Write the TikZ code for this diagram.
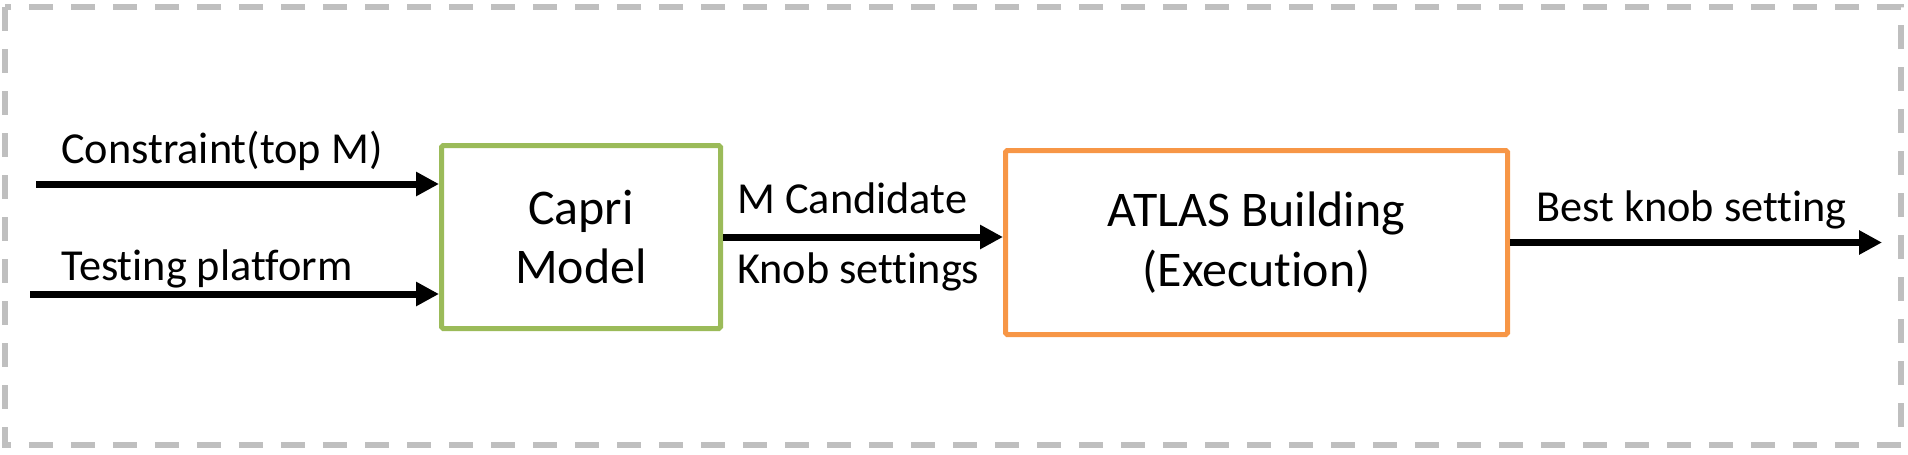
\documentclass[tikz,border=0pt]{standalone}
\usepackage{fontspec}
\setmainfont{Carlito}[Ligatures={NoCommon,NoContextual},Contextuals=NoAlternate]
\usetikzlibrary{arrows.meta,positioning}

\definecolor{capgreen}{HTML}{9BBB59}
\definecolor{atlasorange}{HTML}{F79646}
\definecolor{framegray}{HTML}{BFBFBF}

\begin{document}
\begin{tikzpicture}
    % Define basic styles
    \tikzset{
        stagebox/.style={
            rectangle,
            rounded corners=1pt,
            draw,
            line width=0.1cm,
            align=center,
            font=\fontsize{28.4pt}{34pt}\selectfont
        },
        flow/.style={
            -{Triangle[length=0.46cm,width=0.46cm]},
            line width=0.14cm
        },
        lbl/.style={
            anchor=base west,
            inner sep=0pt,
            font=\fontsize{25.2pt}{30pt}\selectfont
        }
    }
    \useasboundingbox (0,0) rectangle (38.16,9.08);

    % Outer frame
    \draw[framegray, line width=0.12cm, dash pattern=on 0.48cm off 0.36cm]
        (0.10,8.94) rectangle (38.02,0.18);

    % Stages
    \node[stagebox, draw=capgreen, minimum width=5.58cm, minimum height=3.66cm]
        (capri) at (11.62,4.34) {Capri\\Model};
    \node[stagebox, draw=atlasorange, minimum width=10.04cm, minimum height=3.68cm]
        (atlas) at (25.13,4.23) {ATLAS Building\\(Execution)};

    % Inputs and output
    \coordinate (inconstr) at (0.72,5.40);
    \coordinate (inplat) at (0.60,3.20);
    \coordinate (best) at (37.64,4.23);

    \draw[flow] (inconstr) -- (inconstr -| capri.west);
    \draw[flow] (inplat) -- (inplat -| capri.west);
    \draw[flow] (capri.east) -- (capri.east -| atlas.west);
    \draw[flow] (atlas.east) -- (best);

    % Labels
    \node[lbl] (lblconstr) at (1.22,5.82) {Constraint(top M)};
    \node[lbl] (lblplat) at (1.22,3.48) {Testing platform};
    \node[lbl] (lblcand) at (14.74,4.82) {M Candidate};
    \node[lbl] (lblknob) at (14.74,3.42) {Knob settings};
    \node[lbl] (lblbest) at (30.72,4.66) {Best knob setting};
\end{tikzpicture}
\end{document}
